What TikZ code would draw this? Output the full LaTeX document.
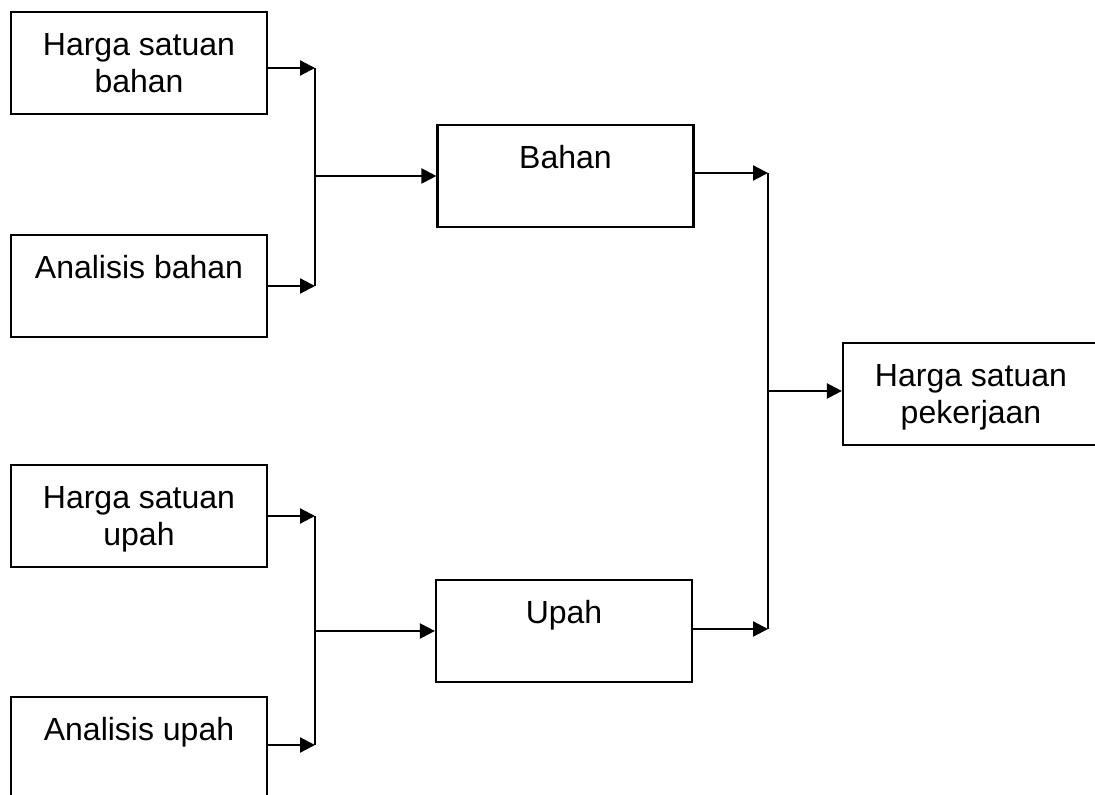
\documentclass[tikz,border=0pt]{standalone}
\usepackage{fontspec}
\setmainfont{Liberation Sans}
\usetikzlibrary{arrows.meta}
% taller strut for the first text line, pushes the text block down a little
\newcommand\firstline{\rule{0pt}{17pt}}
\begin{document}
\begin{tikzpicture}[x=0.5pt,y=-0.5pt,
  box/.style={draw, line width=1.1pt, minimum width=128pt, minimum height=51pt,
    inner sep=0pt, align=center, font=\fontsize{16}{18.5}\selectfont},
  link/.style={line width=1.1pt},
  arr/.style={link, -{Triangle[length=7.5pt,width=7.5pt]}}]
\useasboundingbox (0,0) rectangle (1095,795);
\clip (0,0) rectangle (1095,795);

% input boxes
\node[box] (hsb) at (139,63)  {\firstline Harga satuan\\\strut bahan};
\node[box] (anb) at (139,286) {\firstline Analisis bahan\\\strut};
\node[box] (hsu) at (139,516) {\firstline Harga satuan\\\strut upah};
\node[box] (anu) at (139,748) {\firstline Analisis upah\\\strut};

% intermediate boxes
\node[box] (bahan) at (565.5,176) {\firstline Bahan\\\strut};
\node[box] (upah)  at (564,631)   {\firstline Upah\\\strut};

% result box
\node[box] (hsp) at (971,394) {\firstline Harga satuan\\\strut pekerjaan};

% junction columns
\coordinate (ja) at (315,0);
\coordinate (jb) at (768,0);

% arrow start points
\coordinate (s1) at ([yshift=-2.5pt]hsb.east);
\coordinate (s2) at (anb.east);
\coordinate (s3) at (hsu.east);
\coordinate (s4) at ([yshift=1.5pt]anu.east);
\coordinate (s5) at ([yshift=1.5pt]bahan.east);
\coordinate (s6) at ([yshift=1pt]upah.east);

% bahan branch
\draw[arr] (s1) -- (s1 -| ja);
\draw[arr] (s2) -- (s2 -| ja);
\draw[link] (s1 -| ja) -- (s2 -| ja);
\draw[arr] (ja |- bahan.west) -- (bahan.west);

% upah branch
\draw[arr] (s3) -- (s3 -| ja);
\draw[arr] (s4) -- (s4 -| ja);
\draw[link] (s3 -| ja) -- (s4 -| ja);
\draw[arr] (ja |- upah.west) -- (upah.west);

% combining into the unit price
\draw[arr] (s5) -- (s5 -| jb);
\draw[arr] (s6) -- (s6 -| jb);
\draw[link] (s5 -| jb) -- (s6 -| jb);
\coordinate (r) at ([yshift=1.5pt]hsp.west);
\draw[arr] (r -| jb) -- (r);
\end{tikzpicture}
\end{document}
